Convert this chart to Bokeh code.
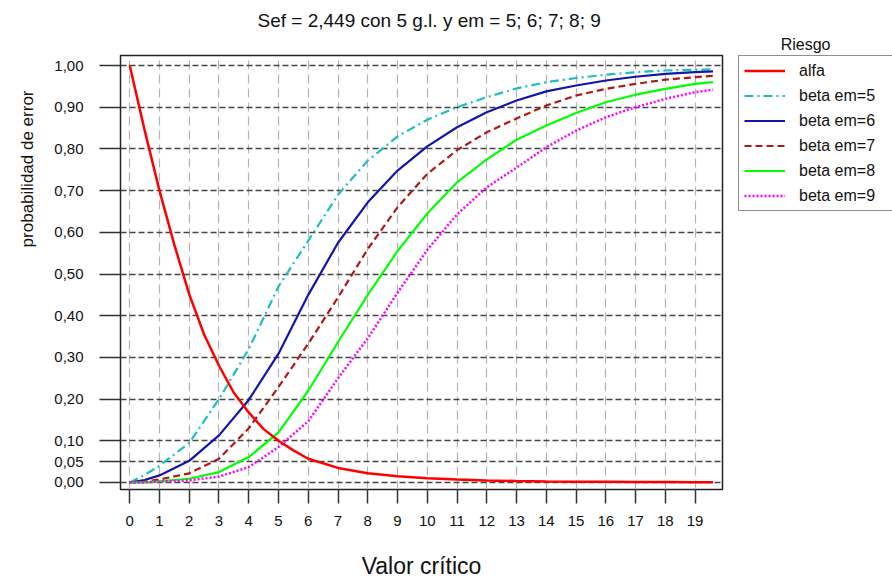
from bokeh.plotting import figure
from bokeh.models import (Range1d, FixedTicker, CustomJSTickFormatter, Legend, LegendItem, Title)
from bokeh.embed import file_html
from bokeh.resources import INLINE

# ---------------- data ----------------
title_text = "Sef = 2,449 con 5 g.l. y em = 5; 6; 7; 8; 9"
x_label = "Valor crítico"
y_label = "probabilidad de error"
legend_title = "Riesgo"

x_alfa = [0, 0.5, 1, 1.5, 2, 2.5, 3, 3.5, 4, 4.5, 5, 5.5, 6, 7, 8, 9, 10,
          11, 12, 13, 14, 15, 16, 17, 18, 19, 19.6]
alfa = [1.0, 0.845, 0.70, 0.57, 0.451, 0.355, 0.28, 0.215, 0.168, 0.128, 0.10,
        0.077, 0.057, 0.035, 0.022, 0.015, 0.010, 0.007, 0.005, 0.0035, 0.0025,
        0.002, 0.0015, 0.001, 0.001, 0.0008, 0.0007]

x_beta = [0, 0.5, 1, 2, 3, 4, 5, 6, 7, 8, 9, 10, 11, 12, 13, 14, 15, 16, 17,
          18, 19, 19.6]
beta_em5 = [0.0, 0.018, 0.04, 0.095, 0.20, 0.32, 0.47, 0.58, 0.69, 0.772,
            0.830, 0.870, 0.90, 0.924, 0.945, 0.96, 0.97, 0.978, 0.984, 0.988,
            0.990, 0.991]
beta_em6 = [0.0, 0.006, 0.017, 0.052, 0.113, 0.198, 0.309, 0.45, 0.575, 0.672,
            0.748, 0.806, 0.852, 0.888, 0.916, 0.938, 0.952, 0.964, 0.973,
            0.980, 0.984, 0.986]
beta_em7 = [0.0, 0.002, 0.007, 0.022, 0.057, 0.13, 0.229, 0.333, 0.444, 0.56,
            0.66, 0.74, 0.797, 0.84, 0.873, 0.904, 0.928, 0.944, 0.956, 0.966,
            0.972, 0.975]
beta_em8 = [0.0, 0.0005, 0.003, 0.009, 0.025, 0.061, 0.12, 0.22, 0.337, 0.45,
            0.555, 0.645, 0.72, 0.775, 0.822, 0.856, 0.886, 0.912, 0.93, 0.944,
            0.956, 0.96]
beta_em9 = [0.0, 0.0003, 0.002, 0.005, 0.014, 0.037, 0.085, 0.147, 0.25, 0.346,
            0.455, 0.558, 0.643, 0.708, 0.755, 0.804, 0.844, 0.876, 0.90, 0.92,
            0.936, 0.942]

series_names = ["alfa", "beta em=5", "beta em=6", "beta em=7", "beta em=8", "beta em=9"]
x_ticks = list(range(0, 20))
y_ticks = [0, 0.05, 0.1, 0.2, 0.3, 0.4, 0.5, 0.6, 0.7, 0.8, 0.9, 1.0]

# ---------------- figure ----------------
FONT = "Liberation Sans"
p = figure(frame_width=602, frame_height=434, output_backend="svg", toolbar_location=None,
           title=None,
           x_range=Range1d(-0.31, 19.92), y_range=Range1d(-0.0168, 1.024),
           min_border_left=120, min_border_right=170, min_border_top=55,
           min_border_bottom=90)
p.background_fill_color = "white"
p.border_fill_color = "white"
p.outline_line_color = "#222222"
p.outline_line_width = 1.5

# grids
p.xgrid.ticker = FixedTicker(ticks=x_ticks)
p.ygrid.ticker = FixedTicker(ticks=y_ticks)
p.xgrid.grid_line_color = "#b4b4b4"
p.xgrid.grid_line_dash = "9 5"
p.xgrid.grid_line_width = 1.2
p.ygrid.grid_line_color = "#444444"
p.ygrid.grid_line_dash = "6 3"
p.ygrid.grid_line_width = 1.3

# axes
p.xaxis.ticker = FixedTicker(ticks=x_ticks)
p.yaxis.ticker = FixedTicker(ticks=y_ticks)
p.yaxis.formatter = CustomJSTickFormatter(code="return tick.toFixed(2).replace('.', ',');")
for ax in (p.xaxis[0], p.yaxis[0]):
    ax.axis_line_color = None
    ax.major_tick_in = 0
    ax.minor_tick_line_color = None
    ax.major_tick_line_color = "#333333"
    ax.major_tick_line_width = 1.5
    ax.major_label_text_font = FONT
    ax.major_label_text_font_size = "15px"
    ax.major_label_text_color = "#111111"
p.xaxis.major_tick_out = 14
p.xaxis.major_label_standoff = 12
p.yaxis.major_tick_out = 21
p.yaxis.major_label_standoff = 16
p.xaxis.axis_label = x_label
p.xaxis.axis_label_text_font = FONT
p.xaxis.axis_label_text_font_size = "23px"
p.xaxis.axis_label_text_font_style = "normal"
p.xaxis.axis_label_text_color = "#111111"
p.xaxis.axis_label_standoff = 24

# ---------------- lines ----------------
r5 = p.line(x_beta, beta_em5, line_color="#1fbfbf", line_width=2.2, line_dash="9 4 2 4")
r6 = p.line(x_beta, beta_em6, line_color="#1414aa", line_width=2.2)
r7 = p.line(x_beta, beta_em7, line_color="#b01818", line_width=2.2, line_dash="7 4")
r8 = p.line(x_beta, beta_em8, line_color="#00ff00", line_width=2.2)
r9 = p.line(x_beta, beta_em9, line_color="#ff00ff", line_width=2.5, line_dash="2 2")
r_alfa = p.line(x_alfa, alfa, line_color="#ff0000", line_width=2.5)

renderers = [r_alfa, r5, r6, r7, r8, r9]
legend = Legend(items=[LegendItem(label=n, renderers=[r]) for n, r in zip(series_names, renderers)],
                location=(16, 278), orientation="vertical",
                glyph_width=41, glyph_height=19, label_height=19, label_width=100,
                spacing=6, padding=5, margin=0, label_standoff=14,
                label_text_font=FONT, label_text_font_size="16px",
                label_text_color="#111111",
                border_line_color="#222222", border_line_width=1.3,
                background_fill_color="white", background_fill_alpha=1.0)
p.add_layout(legend, "right")

# ---------------- titles ----------------
p.add_layout(Title(text=legend_title, text_font=FONT, text_font_size="16px",
                   text_font_style="normal", text_color="#111111",
                   align="right", offset=-108, standoff=6), "above")
p.add_layout(Title(text=title_text, text_font=FONT, text_font_size="19px",
                   text_font_style="normal", text_color="#111111",
                   align="left", offset=137, standoff=0), "above")
p.add_layout(Title(text=y_label, text_font=FONT, text_font_size="17px",
                   text_font_style="normal", text_color="#111111",
                   align="right", offset=35, standoff=29), "left")

open("out.html", "w").write(file_html(p, INLINE))
